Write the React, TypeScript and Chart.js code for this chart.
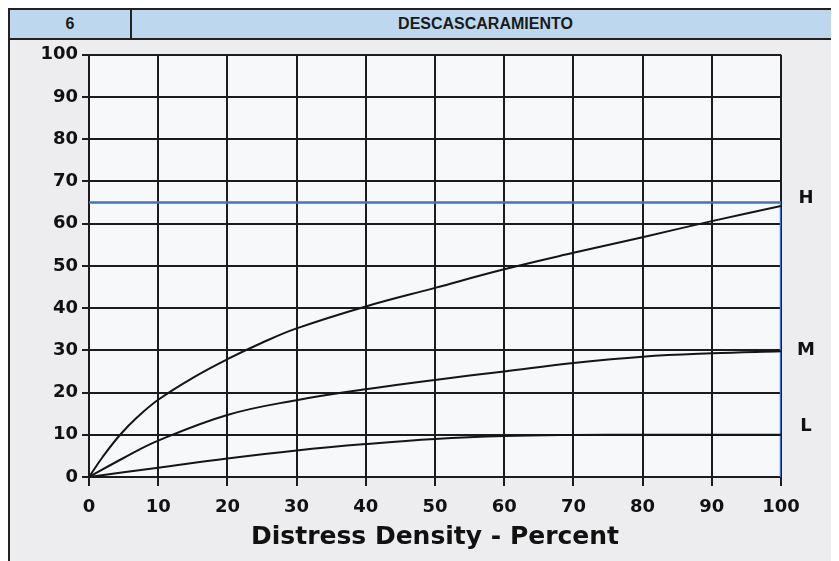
import React, { useEffect, useRef } from "react";
import { Chart, registerables } from "chart.js";

Chart.register(...registerables);

// ---- Data ----
const headerNumber = "6";
const headerTitle = "DESCASCARAMIENTO";
const xAxisTitle = "Distress Density - Percent";

const hX = [0, 2, 4.5, 7, 10, 15, 20, 25, 30, 40, 50, 60, 70, 80, 90, 100];
const hY = [0, 4.8, 10.0, 14.2, 18.3, 23.5, 27.9, 31.8, 35.2, 40.4, 44.8, 49.2, 53.1, 56.8, 60.6, 64.2];

const mX = [0, 5, 10, 20, 30, 40, 50, 60, 70, 80, 90, 100];
const mY = [0, 4.5, 8.6, 14.7, 18.2, 20.8, 23.0, 25.0, 27.0, 28.5, 29.3, 29.8];

const lX = [0, 10, 20, 30, 40, 50, 60, 70, 80, 90, 100];
const lY = [0, 2.2, 4.4, 6.3, 7.8, 9.0, 9.7, 9.95, 10.0, 10.0, 10.0];

// blue reference outline (H threshold)
const refX = [0, 100, 100];
const refY = [65, 65, 0];

const curveNames = ["H", "M", "L"];
const curveLabelY = [66, 30, 12];

const toPoints = (xs: number[], ys: number[]) => xs.map((x, i) => ({ x, y: ys[i] }));

const CANVAS_W = 829;
const CANVAS_H = 521;

export default function App() {
  const ref = useRef<HTMLCanvasElement | null>(null);

  useEffect(() => {
    document.documentElement.style.overflow = "hidden";
    document.body.style.overflow = "hidden";
    const canvas = ref.current;
    if (!canvas) return;

    const bgPlugin = {
      id: "plotBg",
      beforeDraw(chart: any) {
        const { ctx, chartArea } = chart;
        ctx.save();
        ctx.fillStyle = "#f7f8fa";
        ctx.fillRect(chartArea.left, chartArea.top, chartArea.right - chartArea.left, chartArea.bottom - chartArea.top);
        ctx.restore();
      },
    };

    const labelPlugin = {
      id: "curveLabels",
      afterDatasetsDraw(chart: any) {
        const { ctx, chartArea, scales } = chart;
        ctx.save();
        ctx.font = "bold 18px 'DejaVu Sans'";
        ctx.fillStyle = "#111";
        ctx.textAlign = "center";
        ctx.textBaseline = "middle";
        curveNames.forEach((n, i) => {
          ctx.fillText(n, chartArea.right + 25, scales.y.getPixelForValue(curveLabelY[i]));
        });
        ctx.restore();
      },
    };

    const lineDs = (xs: number[], ys: number[], color: string, width: number, tension: number) => ({
      data: toPoints(xs, ys),
      borderColor: color,
      borderWidth: width,
      pointRadius: 0,
      fill: false,
      cubicInterpolationMode: "default" as const,
      tension,
    });

    const tickFont = { family: "'DejaVu Sans'", weight: "bold" as const, size: 18 };
    const gridColor = "#1c1c1c";

    const chart = new Chart(canvas, {
      type: "line",
      data: {
        datasets: [
          lineDs(hX, hY, "#151515", 2, 0.4),
          lineDs(mX, mY, "#151515", 2, 0.4),
          lineDs(lX, lY, "#151515", 2, 0.4),
          lineDs(refX, refY, "#4472c4", 2.5, 0),
        ],
      },
      options: {
        animation: false,
        responsive: false,
        devicePixelRatio: 1,
        parsing: false as any,
        layout: { padding: { left: 0, right: 58, top: 14, bottom: 0 } },
        plugins: { legend: { display: false }, tooltip: { enabled: false } },
        scales: {
          x: {
            type: "linear",
            min: 0,
            max: 100,
            ticks: { stepSize: 10, color: "#111", font: tickFont, padding: 11, maxRotation: 0, autoSkip: false },
            grid: { color: gridColor, lineWidth: 2, tickLength: 9, drawTicks: true },
            border: { display: true, color: gridColor, width: 2 },
            title: {
              display: true,
              text: xAxisTitle,
              color: "#111",
              font: { family: "'DejaVu Sans'", weight: "bold", size: 25 },
              padding: { top: 0, bottom: 9 },
            },
            afterFit: (s: any) => {
              s.height = 84;
            },
          },
          y: {
            type: "linear",
            min: 0,
            max: 100,
            ticks: { stepSize: 10, color: "#111", font: tickFont, padding: 4 },
            grid: { color: gridColor, lineWidth: 2, tickLength: 7, drawTicks: true },
            border: { display: true, color: gridColor, width: 2 },
            afterFit: (s: any) => {
              s.width = 79;
            },
          },
        },
      },
      plugins: [bgPlugin, labelPlugin],
    });

    return () => chart.destroy();
  }, []);

  const border = "2px solid #222";
  return (
    <div style={{ width: 831, position: "relative" }}>
      <div
        style={{
          display: "flex",
          height: 28,
          borderTop: border,
          borderLeft: border,
          borderBottom: border,
          background: "#bdd7ee",
          fontFamily: "'Liberation Sans', Arial, sans-serif",
          fontWeight: "bold",
          fontSize: 16,
          color: "#1a1a1a",
        }}
      >
        <div
          style={{
            width: 120,
            borderRight: border,
            display: "flex",
            alignItems: "center",
            justifyContent: "center",
          }}
        >
          {headerNumber}
        </div>
        <div style={{ flex: 1, display: "flex", alignItems: "center", justifyContent: "center" }}>{headerTitle}</div>
      </div>
      <div style={{ borderLeft: border, width: CANVAS_W, height: CANVAS_H, background: "#ededef" }}>
        <canvas ref={ref} width={CANVAS_W} height={CANVAS_H} style={{ display: "block", width: CANVAS_W, height: CANVAS_H }} />
      </div>
    </div>
  );
}
